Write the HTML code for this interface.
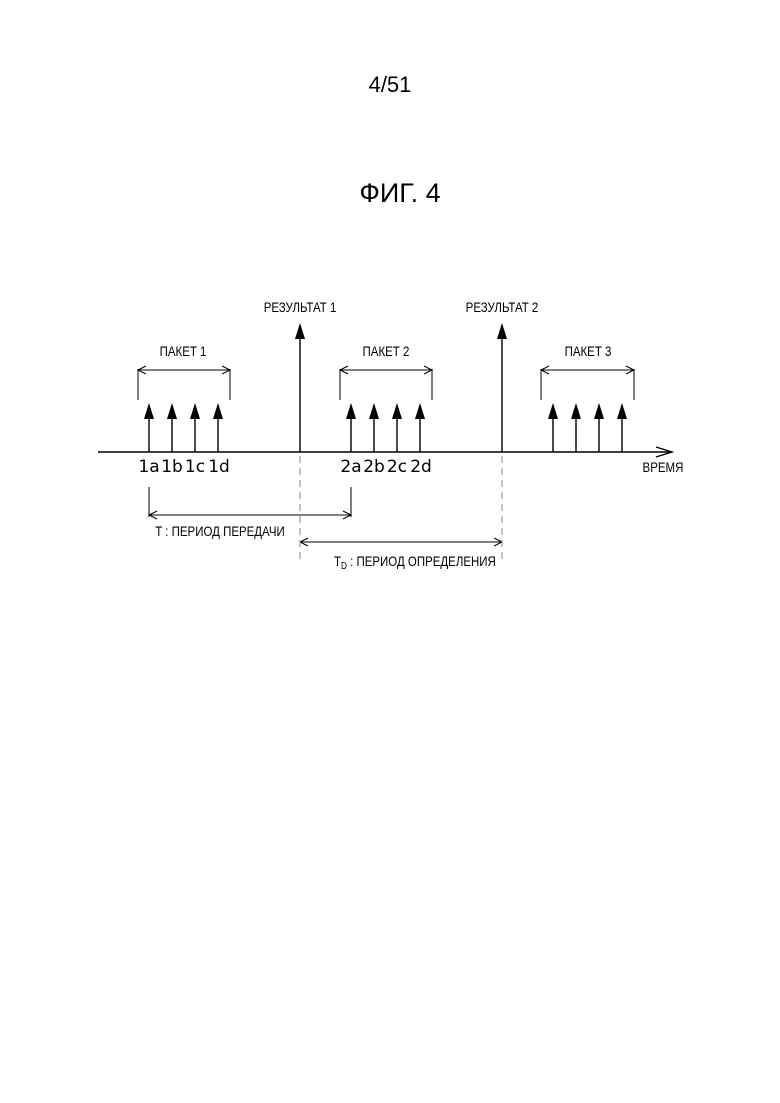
<!DOCTYPE html>
<html><head><meta charset="utf-8"><style>
body{margin:0;background:#fff;width:780px;height:1103px;overflow:hidden}
svg{display:block}
</style></head><body>
<svg width="780" height="1103" xmlns="http://www.w3.org/2000/svg" font-family="Liberation Sans, sans-serif">
<text x="390" y="92" font-size="22" text-anchor="middle">4/51</text>
<text x="400" y="202" font-size="27" text-anchor="middle">ФИГ. 4</text>
<g stroke="#000" stroke-width="1.4" fill="none">
<line x1="98" y1="452" x2="672" y2="452"/>
<path d="M656,447 L672,452 L656,457"/>
</g>
<g stroke="#000" stroke-width="1.4">
<line x1="149" y1="452" x2="149" y2="415"/>
<line x1="172" y1="452" x2="172" y2="415"/>
<line x1="195" y1="452" x2="195" y2="415"/>
<line x1="218" y1="452" x2="218" y2="415"/>
<line x1="351" y1="452" x2="351" y2="415"/>
<line x1="374" y1="452" x2="374" y2="415"/>
<line x1="397" y1="452" x2="397" y2="415"/>
<line x1="420" y1="452" x2="420" y2="415"/>
<line x1="553" y1="452" x2="553" y2="415"/>
<line x1="576" y1="452" x2="576" y2="415"/>
<line x1="599" y1="452" x2="599" y2="415"/>
<line x1="622" y1="452" x2="622" y2="415"/>
<line x1="300" y1="452" x2="300" y2="335"/>
<line x1="502" y1="452" x2="502" y2="335"/>
</g>
<g fill="#000">
<path d="M144,419 L149,403 L154,419 Z"/>
<path d="M167,419 L172,403 L177,419 Z"/>
<path d="M190,419 L195,403 L200,419 Z"/>
<path d="M213,419 L218,403 L223,419 Z"/>
<path d="M346,419 L351,403 L356,419 Z"/>
<path d="M369,419 L374,403 L379,419 Z"/>
<path d="M392,419 L397,403 L402,419 Z"/>
<path d="M415,419 L420,403 L425,419 Z"/>
<path d="M548,419 L553,403 L558,419 Z"/>
<path d="M571,419 L576,403 L581,419 Z"/>
<path d="M594,419 L599,403 L604,419 Z"/>
<path d="M617,419 L622,403 L627,419 Z"/>
<path d="M295,339 L300,323 L305,339 Z"/>
<path d="M497,339 L502,323 L507,339 Z"/>
</g>
<g stroke="#000" stroke-width="1" fill="none">
<path d="M138,369 V400 M230,369 V400 M138,370 H230 M146,366 L138,370 L146,374 M222,366 L230,370 L222,374"/>
<path d="M340,369 V400 M432,369 V400 M340,370 H432 M348,366 L340,370 L348,374 M424,366 L432,370 L424,374"/>
<path d="M541,369 V400 M634,369 V400 M541,370 H634 M549,366 L541,370 L549,374 M626,366 L634,370 L626,374"/>
<path d="M149,487 V517 M351,487 V517 M149,515 H351 M157,511 L149,515 L157,519 M343,511 L351,515 L343,519"/>
<path d="M300,542 H502 M308,538 L300,542 L308,546 M494,538 L502,542 L494,546"/>
</g>
<g stroke="#999" stroke-width="1.2" stroke-dasharray="7,5">
<line x1="300" y1="456" x2="300" y2="560"/>
<line x1="502" y1="456" x2="502" y2="560"/>
</g>
<g font-size="14" text-anchor="middle" transform="scale(0.82,1)">
<text x="365.9" y="312">РЕЗУЛЬТАТ 1</text>
<text x="612.2" y="312">РЕЗУЛЬТАТ 2</text>
<text x="223.2" y="356">ПАКЕТ 1</text>
<text x="470.7" y="356">ПАКЕТ 2</text>
<text x="717.1" y="356">ПАКЕТ 3</text>
<text x="808.5" y="472">ВРЕМЯ</text>
<text x="268.3" y="536">T : ПЕРИОД ПЕРЕДАЧИ</text>
<text x="506" y="566">T<tspan font-size="10" dy="3">D</tspan><tspan dy="-3"> : ПЕРИОД ОПРЕДЕЛЕНИЯ</tspan></text>
</g>
<g font-size="17" font-family="DejaVu Sans, sans-serif" text-anchor="middle">
<text x="149" y="472">1a</text><text x="172" y="472">1b</text><text x="195" y="472">1c</text><text x="219" y="472">1d</text>
<text x="351" y="472">2a</text><text x="374" y="472">2b</text><text x="397" y="472">2c</text><text x="421" y="472">2d</text>
</g>
</svg>
</body></html>
